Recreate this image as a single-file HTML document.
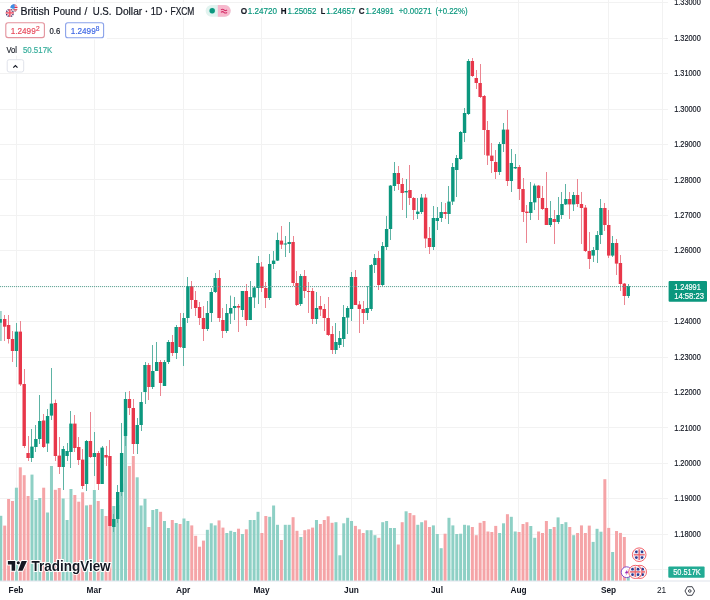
<!DOCTYPE html><html><head><meta charset="utf-8"><title>GBPUSD chart</title><style>html,body{margin:0;padding:0;background:#fff;width:710px;height:600px;overflow:hidden}svg{display:block}</style></head><body><svg width="710" height="600" viewBox="0 0 710 600" font-family="'Liberation Sans', Arial, sans-serif"><rect width="710" height="600" fill="#fff"/><g fill="#f2f2f2"><rect x="0" y="569" width="668" height="1"/><rect x="0" y="534" width="668" height="1"/><rect x="0" y="498" width="668" height="1"/><rect x="0" y="463" width="668" height="1"/><rect x="0" y="427" width="668" height="1"/><rect x="0" y="392" width="668" height="1"/><rect x="0" y="357" width="668" height="1"/><rect x="0" y="321" width="668" height="1"/><rect x="0" y="286" width="668" height="1"/><rect x="0" y="250" width="668" height="1"/><rect x="0" y="215" width="668" height="1"/><rect x="0" y="179" width="668" height="1"/><rect x="0" y="144" width="668" height="1"/><rect x="0" y="109" width="668" height="1"/><rect x="0" y="73" width="668" height="1"/><rect x="0" y="38" width="668" height="1"/><rect x="0" y="2" width="668" height="1"/><rect x="16" y="0" width="1" height="581"/><rect x="94" y="0" width="1" height="581"/><rect x="183" y="0" width="1" height="581"/><rect x="261" y="0" width="1" height="581"/><rect x="351" y="0" width="1" height="581"/><rect x="436" y="0" width="1" height="581"/><rect x="518" y="0" width="1" height="581"/><rect x="608" y="0" width="1" height="581"/><rect x="662" y="0" width="1" height="581"/></g><g fill="#8ed0c5"><rect x="-0.69" y="515.8" width="3" height="65.2"/><rect x="14.90" y="487.7" width="3" height="93.3"/><rect x="30.49" y="474.6" width="3" height="106.4"/><rect x="34.38" y="500.0" width="3" height="81.0"/><rect x="38.28" y="498.0" width="3" height="83.0"/><rect x="46.08" y="512.5" width="3" height="68.5"/><rect x="49.97" y="466.0" width="3" height="115.0"/><rect x="61.66" y="498.5" width="3" height="82.5"/><rect x="65.56" y="520.0" width="3" height="61.0"/><rect x="69.46" y="489.0" width="3" height="92.0"/><rect x="85.05" y="505.4" width="3" height="75.6"/><rect x="92.84" y="490.0" width="3" height="91.0"/><rect x="100.63" y="509.0" width="3" height="72.0"/><rect x="112.32" y="506.0" width="3" height="75.0"/><rect x="116.22" y="505.0" width="3" height="76.0"/><rect x="120.12" y="483.5" width="3" height="97.5"/><rect x="124.02" y="436.0" width="3" height="145.0"/><rect x="135.71" y="477.3" width="3" height="103.7"/><rect x="139.60" y="505.5" width="3" height="75.5"/><rect x="143.50" y="498.8" width="3" height="82.2"/><rect x="151.29" y="510.0" width="3" height="71.0"/><rect x="155.19" y="509.0" width="3" height="72.0"/><rect x="162.99" y="521.0" width="3" height="60.0"/><rect x="166.88" y="528.0" width="3" height="53.0"/><rect x="174.68" y="523.0" width="3" height="58.0"/><rect x="182.47" y="518.5" width="3" height="62.5"/><rect x="186.37" y="521.0" width="3" height="60.0"/><rect x="205.85" y="529.8" width="3" height="51.2"/><rect x="209.75" y="523.3" width="3" height="57.7"/><rect x="213.65" y="525.4" width="3" height="55.6"/><rect x="225.34" y="533.0" width="3" height="48.0"/><rect x="229.23" y="530.8" width="3" height="50.2"/><rect x="233.13" y="532.0" width="3" height="49.0"/><rect x="240.93" y="534.0" width="3" height="47.0"/><rect x="248.72" y="520.0" width="3" height="61.0"/><rect x="252.62" y="520.0" width="3" height="61.0"/><rect x="256.51" y="511.8" width="3" height="69.2"/><rect x="268.20" y="516.8" width="3" height="64.2"/><rect x="272.10" y="505.5" width="3" height="75.5"/><rect x="276.00" y="524.8" width="3" height="56.2"/><rect x="283.79" y="524.8" width="3" height="56.2"/><rect x="287.69" y="524.8" width="3" height="56.2"/><rect x="299.38" y="537.0" width="3" height="44.0"/><rect x="314.97" y="520.0" width="3" height="61.0"/><rect x="334.45" y="522.2" width="3" height="58.8"/><rect x="338.35" y="555.3" width="3" height="25.7"/><rect x="342.25" y="523.3" width="3" height="57.7"/><rect x="346.14" y="517.8" width="3" height="63.2"/><rect x="350.04" y="521.0" width="3" height="60.0"/><rect x="365.63" y="530.2" width="3" height="50.8"/><rect x="369.53" y="530.2" width="3" height="50.8"/><rect x="373.42" y="535.2" width="3" height="45.8"/><rect x="381.22" y="522.2" width="3" height="58.8"/><rect x="385.11" y="521.0" width="3" height="60.0"/><rect x="389.01" y="528.0" width="3" height="53.0"/><rect x="392.91" y="528.0" width="3" height="53.0"/><rect x="404.60" y="511.3" width="3" height="69.7"/><rect x="416.29" y="524.8" width="3" height="56.2"/><rect x="420.19" y="522.2" width="3" height="58.8"/><rect x="431.88" y="525.4" width="3" height="55.6"/><rect x="435.78" y="534.0" width="3" height="47.0"/><rect x="439.67" y="548.2" width="3" height="32.8"/><rect x="447.47" y="517.8" width="3" height="63.2"/><rect x="451.36" y="525.4" width="3" height="55.6"/><rect x="455.26" y="534.0" width="3" height="47.0"/><rect x="459.16" y="533.7" width="3" height="47.3"/><rect x="463.05" y="524.8" width="3" height="56.2"/><rect x="466.95" y="525.4" width="3" height="55.6"/><rect x="498.13" y="533.0" width="3" height="48.0"/><rect x="502.02" y="523.3" width="3" height="57.7"/><rect x="509.82" y="516.8" width="3" height="64.2"/><rect x="513.72" y="531.5" width="3" height="49.5"/><rect x="529.30" y="526.0" width="3" height="55.0"/><rect x="533.20" y="537.8" width="3" height="43.2"/><rect x="548.79" y="529.0" width="3" height="52.0"/><rect x="556.58" y="517.4" width="3" height="63.6"/><rect x="560.48" y="524.0" width="3" height="57.0"/><rect x="564.38" y="522.2" width="3" height="58.8"/><rect x="572.17" y="535.2" width="3" height="45.8"/><rect x="591.66" y="541.9" width="3" height="39.1"/><rect x="595.55" y="528.8" width="3" height="52.2"/><rect x="599.45" y="531.7" width="3" height="49.3"/><rect x="611.14" y="552.0" width="3" height="29.0"/><rect x="626.73" y="571.0" width="3" height="10.0"/></g><g fill="#f5a4a7"><rect x="3.21" y="525.6" width="3" height="55.4"/><rect x="7.11" y="499.0" width="3" height="82.0"/><rect x="11.00" y="501.0" width="3" height="80.0"/><rect x="18.80" y="467.3" width="3" height="113.7"/><rect x="22.69" y="475.2" width="3" height="105.8"/><rect x="26.59" y="496.0" width="3" height="85.0"/><rect x="42.18" y="487.7" width="3" height="93.3"/><rect x="53.87" y="489.8" width="3" height="91.2"/><rect x="57.77" y="488.0" width="3" height="93.0"/><rect x="73.35" y="495.0" width="3" height="86.0"/><rect x="77.25" y="501.7" width="3" height="79.3"/><rect x="81.15" y="492.3" width="3" height="88.7"/><rect x="88.94" y="504.8" width="3" height="76.2"/><rect x="96.74" y="501.0" width="3" height="80.0"/><rect x="104.53" y="516.0" width="3" height="65.0"/><rect x="108.43" y="510.0" width="3" height="71.0"/><rect x="127.91" y="466.0" width="3" height="115.0"/><rect x="131.81" y="456.0" width="3" height="125.0"/><rect x="147.40" y="527.0" width="3" height="54.0"/><rect x="159.09" y="511.8" width="3" height="69.2"/><rect x="170.78" y="520.0" width="3" height="61.0"/><rect x="178.57" y="524.0" width="3" height="57.0"/><rect x="190.26" y="525.4" width="3" height="55.6"/><rect x="194.16" y="535.8" width="3" height="45.2"/><rect x="198.06" y="546.7" width="3" height="34.3"/><rect x="201.96" y="540.6" width="3" height="40.4"/><rect x="217.54" y="520.4" width="3" height="60.6"/><rect x="221.44" y="527.6" width="3" height="53.4"/><rect x="237.03" y="528.7" width="3" height="52.3"/><rect x="244.82" y="529.3" width="3" height="51.7"/><rect x="260.41" y="533.0" width="3" height="48.0"/><rect x="264.31" y="516.0" width="3" height="65.0"/><rect x="279.90" y="540.0" width="3" height="41.0"/><rect x="291.59" y="517.2" width="3" height="63.8"/><rect x="295.48" y="530.8" width="3" height="50.2"/><rect x="303.28" y="530.2" width="3" height="50.8"/><rect x="307.17" y="529.3" width="3" height="51.7"/><rect x="311.07" y="527.6" width="3" height="53.4"/><rect x="318.87" y="524.0" width="3" height="57.0"/><rect x="322.76" y="520.0" width="3" height="61.0"/><rect x="326.66" y="516.3" width="3" height="64.7"/><rect x="330.56" y="522.8" width="3" height="58.2"/><rect x="353.94" y="525.9" width="3" height="55.1"/><rect x="357.84" y="529.3" width="3" height="51.7"/><rect x="361.73" y="533.0" width="3" height="48.0"/><rect x="377.32" y="537.8" width="3" height="43.2"/><rect x="396.81" y="544.5" width="3" height="36.5"/><rect x="400.70" y="522.2" width="3" height="58.8"/><rect x="408.50" y="513.0" width="3" height="68.0"/><rect x="412.39" y="515.2" width="3" height="65.8"/><rect x="424.08" y="520.4" width="3" height="60.6"/><rect x="427.98" y="527.0" width="3" height="54.0"/><rect x="443.57" y="533.7" width="3" height="47.3"/><rect x="470.85" y="527.0" width="3" height="54.0"/><rect x="474.75" y="535.2" width="3" height="45.8"/><rect x="478.64" y="522.8" width="3" height="58.2"/><rect x="482.54" y="521.0" width="3" height="60.0"/><rect x="486.44" y="531.5" width="3" height="49.5"/><rect x="490.33" y="532.0" width="3" height="49.0"/><rect x="494.23" y="525.9" width="3" height="55.1"/><rect x="505.92" y="514.2" width="3" height="66.8"/><rect x="517.61" y="532.0" width="3" height="49.0"/><rect x="521.51" y="524.0" width="3" height="57.0"/><rect x="525.41" y="522.2" width="3" height="58.8"/><rect x="537.10" y="531.5" width="3" height="49.5"/><rect x="541.00" y="533.0" width="3" height="48.0"/><rect x="544.89" y="521.0" width="3" height="60.0"/><rect x="552.69" y="527.0" width="3" height="54.0"/><rect x="568.27" y="527.0" width="3" height="54.0"/><rect x="576.07" y="533.0" width="3" height="48.0"/><rect x="579.96" y="525.4" width="3" height="55.6"/><rect x="583.86" y="533.0" width="3" height="48.0"/><rect x="587.76" y="525.6" width="3" height="55.4"/><rect x="603.35" y="479.2" width="3" height="101.8"/><rect x="607.24" y="527.9" width="3" height="53.1"/><rect x="615.04" y="531.0" width="3" height="50.0"/><rect x="618.93" y="532.9" width="3" height="48.1"/><rect x="622.83" y="537.0" width="3" height="44.0"/></g><g fill="#5db3a4"><rect x="16" y="323.0" width="1" height="44.0"/><rect x="31" y="429.0" width="1" height="33.0"/><rect x="35" y="425.0" width="1" height="27.0"/><rect x="39" y="395.0" width="1" height="49.0"/><rect x="47" y="409.0" width="1" height="43.0"/><rect x="51" y="368.0" width="1" height="52.0"/><rect x="63" y="446.0" width="1" height="44.0"/><rect x="67" y="443.0" width="1" height="18.0"/><rect x="70" y="411.0" width="1" height="57.0"/><rect x="86" y="440.0" width="1" height="51.0"/><rect x="94" y="432.0" width="1" height="44.0"/><rect x="102" y="446.0" width="1" height="38.0"/><rect x="113" y="514.0" width="1" height="18.0"/><rect x="117" y="485.0" width="1" height="38.0"/><rect x="121" y="423.0" width="1" height="73.0"/><rect x="125" y="392.0" width="1" height="54.0"/><rect x="137" y="418.0" width="1" height="36.0"/><rect x="141" y="392.0" width="1" height="39.0"/><rect x="145" y="362.0" width="1" height="42.0"/><rect x="152" y="345.0" width="1" height="44.0"/><rect x="156" y="342.0" width="1" height="29.0"/><rect x="164" y="360.0" width="1" height="26.0"/><rect x="168" y="340.0" width="1" height="24.0"/><rect x="176" y="325.0" width="1" height="34.0"/><rect x="183" y="313.0" width="1" height="53.0"/><rect x="187" y="277.0" width="1" height="46.0"/><rect x="207" y="301.0" width="1" height="30.0"/><rect x="211" y="288.0" width="1" height="34.0"/><rect x="215" y="273.0" width="1" height="20.0"/><rect x="226" y="304.0" width="1" height="29.0"/><rect x="230" y="295.6" width="1" height="28.4"/><rect x="234" y="297.0" width="1" height="23.0"/><rect x="242" y="291.0" width="1" height="26.0"/><rect x="250" y="281.0" width="1" height="39.0"/><rect x="254" y="286.0" width="1" height="22.0"/><rect x="258" y="256.0" width="1" height="48.0"/><rect x="269" y="254.0" width="1" height="46.0"/><rect x="273" y="251.0" width="1" height="18.0"/><rect x="277" y="232.6" width="1" height="28.4"/><rect x="285" y="236.0" width="1" height="21.0"/><rect x="289" y="222.0" width="1" height="31.0"/><rect x="300" y="274.0" width="1" height="32.0"/><rect x="316" y="292.0" width="1" height="32.0"/><rect x="335" y="323.0" width="1" height="31.0"/><rect x="339" y="331.0" width="1" height="17.0"/><rect x="343" y="305.0" width="1" height="42.0"/><rect x="347" y="306.0" width="1" height="28.0"/><rect x="351" y="272.0" width="1" height="49.0"/><rect x="367" y="286.0" width="1" height="34.0"/><rect x="371" y="264.0" width="1" height="47.0"/><rect x="374" y="254.0" width="1" height="19.0"/><rect x="382" y="242.0" width="1" height="44.0"/><rect x="386" y="216.0" width="1" height="34.0"/><rect x="390" y="185.0" width="1" height="55.0"/><rect x="394" y="162.0" width="1" height="29.0"/><rect x="406" y="179.0" width="1" height="39.0"/><rect x="417" y="198.0" width="1" height="21.0"/><rect x="421" y="194.0" width="1" height="20.0"/><rect x="433" y="206.0" width="1" height="44.0"/><rect x="437" y="207.0" width="1" height="23.0"/><rect x="441" y="202.0" width="1" height="20.0"/><rect x="448" y="186.0" width="1" height="38.0"/><rect x="452" y="163.0" width="1" height="42.0"/><rect x="456" y="155.0" width="1" height="42.0"/><rect x="460" y="131.0" width="1" height="29.0"/><rect x="464" y="108.0" width="1" height="34.0"/><rect x="468" y="59.0" width="1" height="56.0"/><rect x="499" y="142.0" width="1" height="33.0"/><rect x="503" y="123.0" width="1" height="29.0"/><rect x="511" y="149.0" width="1" height="43.0"/><rect x="515" y="154.0" width="1" height="15.0"/><rect x="530" y="182.0" width="1" height="38.0"/><rect x="534" y="183.6" width="1" height="26.4"/><rect x="550" y="201.0" width="1" height="26.0"/><rect x="558" y="197.0" width="1" height="27.0"/><rect x="561" y="192.0" width="1" height="27.0"/><rect x="565" y="184.0" width="1" height="21.0"/><rect x="573" y="192.0" width="1" height="19.0"/><rect x="593" y="247.0" width="1" height="15.0"/><rect x="597" y="231.0" width="1" height="32.0"/><rect x="600" y="199.0" width="1" height="45.0"/><rect x="612" y="236.0" width="1" height="21.0"/><rect x="628" y="284.0" width="1" height="14.0"/></g><g fill="#eb8591"><rect x="4" y="315.0" width="1" height="26.0"/><rect x="8" y="315.0" width="1" height="28.5"/><rect x="12" y="331.0" width="1" height="31.0"/><rect x="20" y="321.0" width="1" height="65.0"/><rect x="24" y="369.0" width="1" height="79.0"/><rect x="28" y="436.0" width="1" height="25.0"/><rect x="43" y="414.0" width="1" height="34.0"/><rect x="55" y="399.6" width="1" height="61.4"/><rect x="59" y="437.0" width="1" height="37.0"/><rect x="74" y="415.0" width="1" height="37.0"/><rect x="78" y="437.0" width="1" height="28.0"/><rect x="82" y="449.0" width="1" height="40.0"/><rect x="90" y="412.0" width="1" height="46.0"/><rect x="98" y="451.0" width="1" height="39.0"/><rect x="106" y="446.0" width="1" height="20.0"/><rect x="109" y="440.0" width="1" height="86.0"/><rect x="129" y="391.0" width="1" height="24.0"/><rect x="133" y="399.0" width="1" height="55.0"/><rect x="148" y="363.0" width="1" height="37.0"/><rect x="160" y="360.0" width="1" height="36.0"/><rect x="172" y="335.0" width="1" height="21.0"/><rect x="180" y="313.0" width="1" height="35.0"/><rect x="191" y="281.0" width="1" height="28.0"/><rect x="195" y="291.0" width="1" height="25.0"/><rect x="199" y="302.0" width="1" height="23.0"/><rect x="203" y="306.0" width="1" height="35.0"/><rect x="219" y="270.0" width="1" height="52.0"/><rect x="222" y="308.0" width="1" height="30.0"/><rect x="238" y="304.0" width="1" height="28.0"/><rect x="246" y="284.0" width="1" height="42.0"/><rect x="261" y="262.0" width="1" height="30.0"/><rect x="265" y="282.0" width="1" height="26.0"/><rect x="281" y="226.0" width="1" height="23.0"/><rect x="293" y="236.0" width="1" height="50.0"/><rect x="296" y="271.0" width="1" height="35.0"/><rect x="304" y="270.0" width="1" height="28.0"/><rect x="308" y="282.0" width="1" height="31.0"/><rect x="312" y="288.0" width="1" height="36.0"/><rect x="320" y="296.0" width="1" height="20.0"/><rect x="324" y="304.0" width="1" height="27.0"/><rect x="328" y="297.0" width="1" height="39.0"/><rect x="332" y="326.0" width="1" height="28.0"/><rect x="355" y="270.0" width="1" height="34.0"/><rect x="359" y="301.0" width="1" height="32.0"/><rect x="363" y="301.0" width="1" height="23.0"/><rect x="378" y="251.0" width="1" height="39.0"/><rect x="398" y="166.0" width="1" height="24.0"/><rect x="402" y="178.0" width="1" height="32.0"/><rect x="409" y="165.0" width="1" height="40.0"/><rect x="413" y="197.0" width="1" height="23.0"/><rect x="425" y="194.0" width="1" height="54.0"/><rect x="429" y="227.0" width="1" height="27.0"/><rect x="445" y="203.0" width="1" height="16.0"/><rect x="472" y="58.0" width="1" height="19.0"/><rect x="476" y="70.0" width="1" height="19.0"/><rect x="480" y="64.0" width="1" height="34.0"/><rect x="484" y="95.0" width="1" height="60.0"/><rect x="487" y="121.0" width="1" height="44.0"/><rect x="491" y="143.0" width="1" height="30.0"/><rect x="495" y="150.0" width="1" height="29.0"/><rect x="507" y="110.0" width="1" height="76.0"/><rect x="519" y="165.0" width="1" height="35.0"/><rect x="523" y="178.0" width="1" height="44.0"/><rect x="526" y="205.0" width="1" height="38.0"/><rect x="538" y="185.0" width="1" height="35.0"/><rect x="542" y="186.0" width="1" height="24.0"/><rect x="546" y="172.0" width="1" height="53.0"/><rect x="554" y="210.0" width="1" height="34.0"/><rect x="569" y="192.0" width="1" height="27.0"/><rect x="577" y="179.0" width="1" height="28.0"/><rect x="581" y="192.0" width="1" height="52.0"/><rect x="585" y="205.0" width="1" height="47.0"/><rect x="589" y="232.0" width="1" height="37.0"/><rect x="604" y="203.0" width="1" height="28.0"/><rect x="608" y="210.0" width="1" height="48.0"/><rect x="616" y="239.0" width="1" height="36.0"/><rect x="620" y="255.0" width="1" height="36.0"/><rect x="624" y="283.0" width="1" height="22.0"/></g><g fill="#0b977e"><rect x="14.70" y="331.6" width="3.4" height="19.4"/><rect x="30.29" y="446.6" width="3.4" height="11.4"/><rect x="34.18" y="439.0" width="3.4" height="8.0"/><rect x="38.08" y="421.0" width="3.4" height="18.0"/><rect x="45.88" y="416.0" width="3.4" height="27.5"/><rect x="49.77" y="403.6" width="3.4" height="12.0"/><rect x="61.46" y="449.0" width="3.4" height="18.0"/><rect x="65.36" y="451.0" width="3.4" height="5.0"/><rect x="69.26" y="423.6" width="3.4" height="28.4"/><rect x="84.85" y="441.0" width="3.4" height="43.0"/><rect x="92.64" y="453.0" width="3.4" height="4.0"/><rect x="100.43" y="447.6" width="3.4" height="36.4"/><rect x="112.12" y="519.0" width="3.4" height="8.0"/><rect x="116.02" y="492.0" width="3.4" height="27.0"/><rect x="119.92" y="453.0" width="3.4" height="39.0"/><rect x="123.82" y="399.0" width="3.4" height="37.0"/><rect x="135.51" y="425.0" width="3.4" height="19.0"/><rect x="139.40" y="402.0" width="3.4" height="23.0"/><rect x="143.30" y="365.0" width="3.4" height="27.0"/><rect x="151.09" y="371.0" width="3.4" height="16.0"/><rect x="154.99" y="362.0" width="3.4" height="9.0"/><rect x="162.79" y="362.0" width="3.4" height="24.0"/><rect x="166.68" y="342.0" width="3.4" height="20.0"/><rect x="174.48" y="327.0" width="3.4" height="26.0"/><rect x="182.27" y="318.0" width="3.4" height="30.0"/><rect x="186.17" y="286.0" width="3.4" height="32.0"/><rect x="205.65" y="313.0" width="3.4" height="16.0"/><rect x="209.55" y="292.0" width="3.4" height="21.0"/><rect x="213.45" y="278.0" width="3.4" height="14.0"/><rect x="225.14" y="313.0" width="3.4" height="18.0"/><rect x="229.03" y="308.0" width="3.4" height="5.6"/><rect x="232.93" y="306.0" width="3.4" height="2.0"/><rect x="240.73" y="291.0" width="3.4" height="19.0"/><rect x="248.52" y="297.0" width="3.4" height="23.0"/><rect x="252.42" y="287.5" width="3.4" height="10.0"/><rect x="256.31" y="263.0" width="3.4" height="25.0"/><rect x="268.00" y="264.0" width="3.4" height="34.0"/><rect x="271.90" y="260.6" width="3.4" height="3.4"/><rect x="275.80" y="240.0" width="3.4" height="20.6"/><rect x="283.59" y="243.5" width="3.4" height="1.0"/><rect x="287.49" y="242.0" width="3.4" height="2.0"/><rect x="299.18" y="276.0" width="3.4" height="28.0"/><rect x="314.77" y="308.0" width="3.4" height="11.0"/><rect x="334.25" y="342.0" width="3.4" height="8.0"/><rect x="338.15" y="338.0" width="3.4" height="7.0"/><rect x="342.05" y="317.0" width="3.4" height="22.0"/><rect x="345.94" y="308.0" width="3.4" height="9.6"/><rect x="349.84" y="277.0" width="3.4" height="32.0"/><rect x="365.43" y="308.0" width="3.4" height="5.0"/><rect x="369.33" y="265.0" width="3.4" height="44.0"/><rect x="373.22" y="258.0" width="3.4" height="7.0"/><rect x="381.02" y="246.0" width="3.4" height="39.0"/><rect x="384.91" y="229.0" width="3.4" height="18.0"/><rect x="388.81" y="185.6" width="3.4" height="43.4"/><rect x="392.71" y="173.0" width="3.4" height="13.0"/><rect x="404.40" y="191.0" width="3.4" height="1.4"/><rect x="416.09" y="211.6" width="3.4" height="2.4"/><rect x="419.99" y="197.6" width="3.4" height="14.4"/><rect x="431.68" y="218.0" width="3.4" height="29.0"/><rect x="435.58" y="218.0" width="3.4" height="3.0"/><rect x="439.47" y="212.0" width="3.4" height="6.0"/><rect x="447.27" y="201.6" width="3.4" height="12.4"/><rect x="451.16" y="167.0" width="3.4" height="34.6"/><rect x="455.06" y="158.0" width="3.4" height="12.0"/><rect x="458.96" y="132.0" width="3.4" height="27.0"/><rect x="462.85" y="113.0" width="3.4" height="20.0"/><rect x="466.75" y="61.0" width="3.4" height="53.0"/><rect x="497.93" y="144.0" width="3.4" height="28.0"/><rect x="501.82" y="129.6" width="3.4" height="14.4"/><rect x="509.62" y="163.0" width="3.4" height="18.0"/><rect x="513.52" y="167.0" width="3.4" height="1.4"/><rect x="529.10" y="202.0" width="3.4" height="11.0"/><rect x="533.00" y="185.6" width="3.4" height="16.8"/><rect x="548.59" y="218.0" width="3.4" height="7.0"/><rect x="556.38" y="215.0" width="3.4" height="7.0"/><rect x="560.28" y="204.0" width="3.4" height="11.0"/><rect x="564.18" y="199.0" width="3.4" height="5.4"/><rect x="571.97" y="195.0" width="3.4" height="9.4"/><rect x="591.46" y="250.0" width="3.4" height="5.6"/><rect x="595.35" y="235.0" width="3.4" height="15.0"/><rect x="599.25" y="208.0" width="3.4" height="27.0"/><rect x="610.94" y="243.0" width="3.4" height="12.6"/><rect x="626.53" y="286.0" width="3.4" height="10.0"/><rect x="0" y="311" width="1.8" height="30" fill="#9fd6cc"/><rect x="0" y="319" width="1.8" height="3.7"/></g><g fill="#e8374a"><rect x="3.01" y="319.0" width="3.4" height="7.7"/><rect x="6.91" y="325.0" width="3.4" height="14.0"/><rect x="10.80" y="339.0" width="3.4" height="12.0"/><rect x="18.60" y="331.6" width="3.4" height="52.8"/><rect x="22.49" y="384.0" width="3.4" height="62.0"/><rect x="26.39" y="453.0" width="3.4" height="5.0"/><rect x="41.98" y="420.5" width="3.4" height="26.5"/><rect x="53.67" y="403.0" width="3.4" height="53.0"/><rect x="57.57" y="455.6" width="3.4" height="11.4"/><rect x="73.15" y="423.6" width="3.4" height="24.4"/><rect x="77.05" y="447.0" width="3.4" height="13.0"/><rect x="80.95" y="459.6" width="3.4" height="26.4"/><rect x="88.74" y="441.0" width="3.4" height="16.0"/><rect x="96.54" y="453.0" width="3.4" height="31.0"/><rect x="104.33" y="455.0" width="3.4" height="2.5"/><rect x="108.23" y="456.0" width="3.4" height="70.0"/><rect x="127.71" y="399.0" width="3.4" height="9.0"/><rect x="131.61" y="408.0" width="3.4" height="36.0"/><rect x="147.20" y="365.0" width="3.4" height="22.0"/><rect x="158.89" y="362.0" width="3.4" height="21.0"/><rect x="170.58" y="342.0" width="3.4" height="11.0"/><rect x="178.37" y="327.0" width="3.4" height="20.0"/><rect x="190.06" y="286.0" width="3.4" height="14.0"/><rect x="193.96" y="300.0" width="3.4" height="8.0"/><rect x="197.86" y="307.0" width="3.4" height="11.0"/><rect x="201.76" y="318.0" width="3.4" height="11.0"/><rect x="217.34" y="278.0" width="3.4" height="40.0"/><rect x="221.24" y="320.0" width="3.4" height="11.0"/><rect x="236.83" y="306.0" width="3.4" height="1.6"/><rect x="244.62" y="291.0" width="3.4" height="29.0"/><rect x="260.21" y="266.6" width="3.4" height="21.4"/><rect x="264.11" y="288.0" width="3.4" height="10.0"/><rect x="279.70" y="240.6" width="3.4" height="4.0"/><rect x="291.39" y="242.0" width="3.4" height="41.0"/><rect x="295.28" y="283.0" width="3.4" height="22.0"/><rect x="303.08" y="276.0" width="3.4" height="15.0"/><rect x="306.97" y="291.0" width="3.4" height="1.0"/><rect x="310.87" y="291.0" width="3.4" height="28.0"/><rect x="318.67" y="306.0" width="3.4" height="3.5"/><rect x="322.56" y="309.0" width="3.4" height="9.0"/><rect x="326.46" y="318.0" width="3.4" height="17.0"/><rect x="330.36" y="334.0" width="3.4" height="16.0"/><rect x="353.74" y="277.0" width="3.4" height="28.0"/><rect x="357.64" y="304.5" width="3.4" height="4.5"/><rect x="361.53" y="309.0" width="3.4" height="4.0"/><rect x="377.12" y="258.0" width="3.4" height="27.0"/><rect x="396.61" y="173.0" width="3.4" height="11.0"/><rect x="400.50" y="184.0" width="3.4" height="9.0"/><rect x="408.30" y="190.0" width="3.4" height="8.0"/><rect x="412.19" y="198.0" width="3.4" height="12.0"/><rect x="423.88" y="197.6" width="3.4" height="40.9"/><rect x="427.78" y="238.0" width="3.4" height="9.0"/><rect x="443.37" y="212.0" width="3.4" height="2.0"/><rect x="470.65" y="61.0" width="3.4" height="15.0"/><rect x="474.55" y="78.0" width="3.4" height="5.0"/><rect x="478.44" y="83.0" width="3.4" height="14.0"/><rect x="482.34" y="96.0" width="3.4" height="34.0"/><rect x="486.24" y="130.0" width="3.4" height="25.6"/><rect x="490.13" y="155.6" width="3.4" height="5.4"/><rect x="494.03" y="162.0" width="3.4" height="10.0"/><rect x="505.72" y="129.6" width="3.4" height="51.4"/><rect x="517.41" y="167.0" width="3.4" height="22.0"/><rect x="521.31" y="189.0" width="3.4" height="23.0"/><rect x="525.21" y="211.6" width="3.4" height="1.4"/><rect x="536.90" y="185.6" width="3.4" height="12.4"/><rect x="540.79" y="198.0" width="3.4" height="11.0"/><rect x="544.69" y="208.0" width="3.4" height="17.0"/><rect x="552.49" y="219.0" width="3.4" height="3.0"/><rect x="568.07" y="199.0" width="3.4" height="5.4"/><rect x="575.87" y="195.0" width="3.4" height="9.0"/><rect x="579.76" y="204.0" width="3.4" height="4.0"/><rect x="583.66" y="207.6" width="3.4" height="43.4"/><rect x="587.56" y="251.0" width="3.4" height="8.0"/><rect x="603.15" y="208.0" width="3.4" height="17.0"/><rect x="607.04" y="225.0" width="3.4" height="30.6"/><rect x="614.84" y="243.0" width="3.4" height="20.6"/><rect x="618.73" y="263.0" width="3.4" height="21.0"/><rect x="622.63" y="283.6" width="3.4" height="12.4"/></g><line x1="0" y1="286.6" x2="668" y2="286.6" stroke="#5aa596" stroke-width="1" stroke-dasharray="1 1"/><g font-size="8.8" fill="#131722" stroke="#131722" stroke-width="0.18"><text x="674.2" y="536.8" textLength="26.6" lengthAdjust="spacingAndGlyphs">1.18000</text><text x="674.2" y="501.4" textLength="26.6" lengthAdjust="spacingAndGlyphs">1.19000</text><text x="674.2" y="465.9" textLength="26.6" lengthAdjust="spacingAndGlyphs">1.20000</text><text x="674.2" y="430.5" textLength="26.6" lengthAdjust="spacingAndGlyphs">1.21000</text><text x="674.2" y="395.1" textLength="26.6" lengthAdjust="spacingAndGlyphs">1.22000</text><text x="674.2" y="359.6" textLength="26.6" lengthAdjust="spacingAndGlyphs">1.23000</text><text x="674.2" y="324.2" textLength="26.6" lengthAdjust="spacingAndGlyphs">1.24000</text><text x="674.2" y="253.3" textLength="26.6" lengthAdjust="spacingAndGlyphs">1.26000</text><text x="674.2" y="217.9" textLength="26.6" lengthAdjust="spacingAndGlyphs">1.27000</text><text x="674.2" y="182.5" textLength="26.6" lengthAdjust="spacingAndGlyphs">1.28000</text><text x="674.2" y="147.0" textLength="26.6" lengthAdjust="spacingAndGlyphs">1.29000</text><text x="674.2" y="111.6" textLength="26.6" lengthAdjust="spacingAndGlyphs">1.30000</text><text x="674.2" y="76.2" textLength="26.6" lengthAdjust="spacingAndGlyphs">1.31000</text><text x="674.2" y="40.8" textLength="26.6" lengthAdjust="spacingAndGlyphs">1.32000</text><text x="674.2" y="5.3" textLength="26.6" lengthAdjust="spacingAndGlyphs">1.33000</text></g><rect x="668.6" y="281" width="38.4" height="20.7" rx="1" fill="#0b977e"/><g font-size="8.8" fill="#fff" stroke="#fff" stroke-width="0.18"><text x="674.2" y="290" textLength="26.6" lengthAdjust="spacingAndGlyphs">1.24991</text><text x="674.2" y="299.2" textLength="29.8" lengthAdjust="spacingAndGlyphs">14:58:23</text></g><rect x="668.3" y="566.5" width="36.3" height="11.2" rx="1" fill="#22ab94"/><text x="673.2" y="575.3" font-size="8.8" fill="#fff" textLength="27.6" lengthAdjust="spacingAndGlyphs" stroke="#fff" stroke-width="0.18">50.517K</text><rect x="0" y="581" width="710" height="19" fill="#fff"/><rect x="0" y="580.5" width="710" height="1" fill="#e0e3eb"/><g font-size="8.3" fill="#131722" stroke="none"><text x="16.0" y="593.1" text-anchor="middle" font-weight="bold">Feb</text><text x="94.0" y="593.1" text-anchor="middle" font-weight="bold">Mar</text><text x="183.2" y="593.1" text-anchor="middle" font-weight="bold">Apr</text><text x="261.5" y="593.1" text-anchor="middle" font-weight="bold">May</text><text x="351.4" y="593.1" text-anchor="middle" font-weight="bold">Jun</text><text x="437.0" y="593.1" text-anchor="middle" font-weight="bold">Jul</text><text x="518.6" y="593.1" text-anchor="middle" font-weight="bold">Aug</text><text x="608.5" y="593.1" text-anchor="middle" font-weight="bold">Sep</text><text x="661.6" y="593.1" text-anchor="middle">21</text></g><g transform="translate(689.8,591)" fill="none" stroke="#131722" stroke-width="0.8"><polygon points="4.8,0 2.4,4.3 -2.4,4.3 -4.8,0 -2.4,-4.3 2.4,-4.3"/><circle r="1.3"/></g><g fill="#fff"><rect x="0" y="3.5" width="476" height="13.5"/><rect x="0" y="17" width="107" height="22.5"/><rect x="0" y="39.5" width="56" height="16"/></g><defs><clipPath id="us"><circle cx="14" cy="7.9" r="3.6"/></clipPath><clipPath id="uk"><circle cx="9.8" cy="12.9" r="4"/></clipPath></defs><g clip-path="url(#us)"><rect x="10" y="4" width="8" height="8" fill="#fff"/><rect x="13" y="4.3" width="5" height="1.2" fill="#e0304a"/><rect x="13" y="6.6" width="5" height="1.5" fill="#e0304a"/><rect x="10" y="9.2" width="8" height="1.4" fill="#c84050"/><rect x="10" y="11" width="8" height="1" fill="#8a4048"/><path d="M10 4 H14.6 V8.8 H10 Z" fill="#3d8ee6"/></g><circle cx="9.8" cy="12.9" r="4.8" fill="#fff"/><g clip-path="url(#uk)"><rect x="5" y="8" width="10" height="10" fill="#3a2f6a"/><path d="M5.8 8.9 L13.8 16.9 M13.8 8.9 L5.8 16.9" stroke="#f4d6de" stroke-width="1.3"/><path d="M9.8 8 V18 M5 12.9 H15" stroke="#f6c9d2" stroke-width="2.4"/><path d="M9.8 8 V18 M5 12.9 H15" stroke="#ef5466" stroke-width="1.4"/></g><text x="20.40" y="14.7" font-size="10.2" fill="#131722" textLength="29.30" lengthAdjust="spacingAndGlyphs" stroke="#131722" stroke-width="0.2">British</text><text x="53.30" y="14.7" font-size="10.2" fill="#131722" textLength="27.80" lengthAdjust="spacingAndGlyphs" stroke="#131722" stroke-width="0.2">Pound</text><text x="84.6" y="14.7" font-size="10.2" fill="#131722" stroke="#131722" stroke-width="0.18">/</text><text x="92.70" y="14.7" font-size="10.2" fill="#131722" textLength="18.80" lengthAdjust="spacingAndGlyphs" stroke="#131722" stroke-width="0.2">U.S.</text><text x="115.60" y="14.7" font-size="10.2" fill="#131722" textLength="26.60" lengthAdjust="spacingAndGlyphs" stroke="#131722" stroke-width="0.2">Dollar</text><circle cx="146.4" cy="11.4" r="0.8" fill="#131722"/><text x="150.70" y="14.7" font-size="10.2" fill="#131722" textLength="11.90" lengthAdjust="spacingAndGlyphs" stroke="#131722" stroke-width="0.2">1D</text><circle cx="166.2" cy="11.4" r="0.8" fill="#131722"/><text x="170.50" y="14.7" font-size="10.2" fill="#131722" textLength="23.90" lengthAdjust="spacingAndGlyphs" stroke="#131722" stroke-width="0.2">FXCM</text><rect x="205.6" y="5" width="25.1" height="11.7" rx="5.85" fill="#e2f3ef"/><path d="M217.8 5 H224.85 A5.85 5.85 0 0 1 224.85 16.7 H217.8 Z" fill="#f7b8cd"/><circle cx="212.2" cy="10.7" r="3.3" fill="#c9f0ec"/><circle cx="212.2" cy="10.7" r="2.7" fill="#0b977e"/><path d="M221 9.9 c1 -0.9 2 -0.9 3 0 s2 0.9 3 0 M221 12.3 c1 -0.9 2 -0.9 3 0 s2 0.9 3 0" fill="none" stroke="#d42f68" stroke-width="1.1"/><text x="240.70" y="14.3" font-size="8.8" fill="#131722" textLength="6.40" lengthAdjust="spacingAndGlyphs" font-weight="bold" stroke="#131722" stroke-width="0.18">O</text><text x="247.80" y="14.3" font-size="8.8" fill="#0b977e" textLength="29.30" lengthAdjust="spacingAndGlyphs" stroke="#0b977e" stroke-width="0.18">1.24720</text><text x="280.70" y="14.3" font-size="8.8" fill="#131722" textLength="5.80" lengthAdjust="spacingAndGlyphs" font-weight="bold" stroke="#131722" stroke-width="0.18">H</text><text x="287.50" y="14.3" font-size="8.8" fill="#0b977e" textLength="29.00" lengthAdjust="spacingAndGlyphs" stroke="#0b977e" stroke-width="0.18">1.25052</text><text x="320.70" y="14.3" font-size="8.8" fill="#131722" textLength="4.50" lengthAdjust="spacingAndGlyphs" font-weight="bold" stroke="#131722" stroke-width="0.18">L</text><text x="326.30" y="14.3" font-size="8.8" fill="#0b977e" textLength="29.30" lengthAdjust="spacingAndGlyphs" stroke="#0b977e" stroke-width="0.18">1.24657</text><text x="358.70" y="14.3" font-size="8.8" fill="#131722" textLength="5.80" lengthAdjust="spacingAndGlyphs" font-weight="bold" stroke="#131722" stroke-width="0.18">C</text><text x="365.50" y="14.3" font-size="8.8" fill="#0b977e" textLength="28.40" lengthAdjust="spacingAndGlyphs" stroke="#0b977e" stroke-width="0.18">1.24991</text><text x="398.70" y="14.3" font-size="8.8" fill="#0b977e" textLength="33.00" lengthAdjust="spacingAndGlyphs" stroke="#0b977e" stroke-width="0.18">+0.00271</text><text x="435.50" y="14.3" font-size="8.8" fill="#0b977e" textLength="32.10" lengthAdjust="spacingAndGlyphs" stroke="#0b977e" stroke-width="0.18">(+0.22%)</text><rect x="5.8" y="22.8" width="38.6" height="14.8" rx="2.3" fill="#fff" stroke="#e3939d" stroke-width="1.1"/><rect x="65.6" y="22.8" width="38" height="15" rx="2.3" fill="#fff" stroke="#8aa2ea" stroke-width="1.1"/><text x="10.70" y="33.6" font-size="8.7" fill="#e84a5c" textLength="25.00" lengthAdjust="spacingAndGlyphs" stroke="#e84a5c" stroke-width="0.18">1.2499</text><text x="35.9" y="31.4" fill="#e84a5c" font-size="6.6" stroke="#e84a5c" stroke-width="0.18">2</text><text x="49.50" y="33.6" font-size="8.7" fill="#131722" textLength="10.70" lengthAdjust="spacingAndGlyphs" stroke="#131722" stroke-width="0.18">0.6</text><text x="70.70" y="33.6" font-size="8.7" fill="#3f68e6" textLength="25.00" lengthAdjust="spacingAndGlyphs" stroke="#3f68e6" stroke-width="0.18">1.2499</text><text x="95.7" y="31.4" fill="#3f68e6" font-size="6.6" stroke="#3f68e6" stroke-width="0.18">8</text><text x="6.4" y="52.8" font-size="8.8" fill="#131722" textLength="10.4" lengthAdjust="spacingAndGlyphs" stroke="#131722" stroke-width="0.18">Vol</text><text x="22.9" y="52.8" font-size="8.8" fill="#35ad9b" textLength="29.4" lengthAdjust="spacingAndGlyphs" stroke="#35ad9b" stroke-width="0.18">50.517K</text><rect x="7.2" y="59.7" width="16.5" height="12.3" rx="2" fill="#fff" stroke="#e0e3eb" stroke-width="1"/><path d="M13.3 67.6 L15.4 65.5 L17.5 67.6" fill="none" stroke="#131722" stroke-width="1.2"/><g><g stroke="#fff" stroke-width="2" stroke-linejoin="round" fill="#fff"><path d="M7.9 561.1 H15.2 V570.7 H11.6 V564.4 H7.9 Z"/><circle cx="18.3" cy="562.7" r="1.55"/><path d="M21.6 561.1 H26.9 L22.5 570.7 H18.1 Z"/></g><g fill="#131722"><path d="M7.9 561.1 H15.2 V570.7 H11.6 V564.4 H7.9 Z"/><circle cx="18.3" cy="562.7" r="1.55"/><path d="M21.6 561.1 H26.9 L22.5 570.7 H18.1 Z"/></g><text x="31.6" y="571.1" font-size="13.8" font-weight="bold" fill="#131722" stroke="#fff" stroke-width="2" paint-order="stroke" textLength="79" lengthAdjust="spacingAndGlyphs">TradingView</text></g><circle cx="626.6" cy="572.2" r="5.4" fill="#fff" stroke="#7b3fc4" stroke-width="0.9"/><path d="M627.6 569 L624.8 573.2 L626.8 573.2 L625.6 576 L628.6 571.6 L626.6 571.6 Z" fill="#9c27b0"/><g><circle cx="639.9" cy="571.9" r="6.6" fill="#fff" stroke="#f0505a" stroke-width="0.9"/><circle cx="639.9" cy="571.9" r="5.199999999999999" fill="#dfe3f3"/><circle cx="637.13" cy="569.13" r="1.32" fill="#2b3a8f"/><circle cx="637.13" cy="574.67" r="1.32" fill="#2b3a8f"/><circle cx="642.67" cy="569.13" r="1.32" fill="#2b3a8f"/><circle cx="642.67" cy="574.67" r="1.32" fill="#2b3a8f"/><path d="M634.6999999999999 571.9 H645.1 M639.9 566.6999999999999 V577.1" stroke="#f2a0a6" stroke-width="1.6"/><path d="M634.6999999999999 571.9 H645.1 M639.9 566.6999999999999 V577.1" stroke="#e8515a" stroke-width="0.7"/></g><g><circle cx="635.3" cy="571.9" r="6.6" fill="#fff" stroke="#f0505a" stroke-width="0.9"/><circle cx="635.3" cy="571.9" r="5.199999999999999" fill="#dfe3f3"/><circle cx="632.53" cy="569.13" r="1.32" fill="#2b3a8f"/><circle cx="632.53" cy="574.67" r="1.32" fill="#2b3a8f"/><circle cx="638.07" cy="569.13" r="1.32" fill="#2b3a8f"/><circle cx="638.07" cy="574.67" r="1.32" fill="#2b3a8f"/><path d="M630.0999999999999 571.9 H640.5 M635.3 566.6999999999999 V577.1" stroke="#f2a0a6" stroke-width="1.6"/><path d="M630.0999999999999 571.9 H640.5 M635.3 566.6999999999999 V577.1" stroke="#e8515a" stroke-width="0.7"/></g><g><circle cx="639.2" cy="554.7" r="6.8" fill="#fff" stroke="#f0505a" stroke-width="0.9"/><circle cx="639.2" cy="554.7" r="5.4" fill="#dfe3f3"/><circle cx="636.34" cy="551.84" r="1.36" fill="#2b3a8f"/><circle cx="636.34" cy="557.56" r="1.36" fill="#2b3a8f"/><circle cx="642.06" cy="551.84" r="1.36" fill="#2b3a8f"/><circle cx="642.06" cy="557.56" r="1.36" fill="#2b3a8f"/><path d="M633.8000000000001 554.7 H644.6 M639.2 549.3000000000001 V560.1" stroke="#f2a0a6" stroke-width="1.6"/><path d="M633.8000000000001 554.7 H644.6 M639.2 549.3000000000001 V560.1" stroke="#e8515a" stroke-width="0.7"/></g></svg></body></html>
